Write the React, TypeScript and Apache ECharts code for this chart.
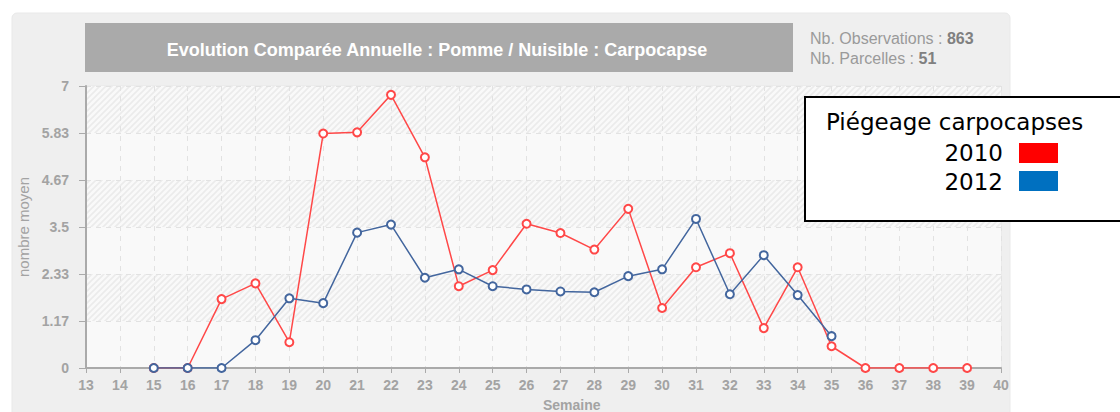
import React, { useEffect, useRef } from "react";
import * as echarts from "echarts";

// ---- data ----
const weeks2010 = [15, 16, 17, 18, 19, 20, 21, 22, 23, 24, 25, 26, 27, 28, 29, 30, 31, 32, 33, 34, 35, 36, 37, 38, 39];
const values2010 = [0, 0, 1.71, 2.1, 0.64, 5.82, 5.85, 6.78, 5.23, 2.03, 2.43, 3.58, 3.35, 2.94, 3.95, 1.49, 2.5, 2.85, 0.99, 2.5, 0.54, 0, 0, 0, 0];
const weeks2012 = [15, 16, 17, 18, 19, 20, 21, 22, 23, 24, 25, 26, 27, 28, 29, 30, 31, 32, 33, 34, 35];
const values2012 = [0, 0, 0, 0.69, 1.73, 1.61, 3.36, 3.56, 2.24, 2.45, 2.03, 1.95, 1.9, 1.88, 2.28, 2.45, 3.7, 1.83, 2.8, 1.81, 0.79];
const xMin = 13;
const xMax = 40;
const yMax = 7;
const ySteps = 6;

const seriesNames = ["2010", "2012"];
const lineColors = ["#ff4848", "#43669e"];
const legendColors = ["#ff0000", "#0070c0"];
const titleText = "Evolution Comparée Annuelle : Pomme / Nuisible : Carpocapse";
const nbObservations = 863;
const nbParcelles = 51;
const legendTitle = "Piégeage carpocapses";

function makeHatch(): HTMLCanvasElement {
  const c = document.createElement("canvas");
  c.width = 6;
  c.height = 6;
  const ctx = c.getContext("2d")!;
  ctx.fillStyle = "#f9f9f9";
  ctx.fillRect(0, 0, 6, 6);
  ctx.strokeStyle = "#ebebeb";
  ctx.lineWidth = 1.6;
  ctx.beginPath();
  ctx.moveTo(0, 6);
  ctx.lineTo(6, 0);
  ctx.moveTo(-1, 1);
  ctx.lineTo(1, -1);
  ctx.moveTo(5, 7);
  ctx.lineTo(7, 5);
  ctx.stroke();
  return c;
}

const fmt = (v: number) => String(parseFloat(v.toFixed(2)));

export default function App() {
  const ref = useRef<HTMLDivElement>(null);

  useEffect(() => {
    if (!ref.current) return;
    const chart = echarts.init(ref.current, undefined, { renderer: "svg" });

    const makeData = (w: number[], v: number[]) => w.map((x, i) => [x, v[i]]);
    const axisFont = "'Liberation Sans', Arial, Helvetica, sans-serif";
    const hatchUrl = makeHatch().toDataURL();

    const option: any = {
      animation: false,
      grid: {
        left: 86,
        right: 119,
        top: 86,
        bottom: 44,
        show: true,
        backgroundColor: "transparent",
        borderColor: "#e6e6e6",
        borderWidth: 1,
      },
      xAxis: {
        type: "value",
        min: xMin,
        max: xMax,
        interval: 1,
        axisLine: { show: true, onZero: false, lineStyle: { color: "#aaaaaa", width: 2 } },
        axisTick: { show: true, length: 5, lineStyle: { color: "#aaaaaa", width: 1 } },
        axisLabel: {
          color: "#a3a3a3",
          fontSize: 14,
          fontWeight: "bold",
          fontFamily: axisFont,
          margin: 10,
        },
        splitLine: { show: true, lineStyle: { color: "#e2e2e2", type: [5, 5], width: 1 } },
      },
      yAxis: {
        type: "value",
        min: 0,
        max: yMax,
        interval: yMax / ySteps,
        name: "nombre moyen",
        nameLocation: "middle",
        nameGap: 51,
        nameTextStyle: { color: "#a3a3a3", fontSize: 15, fontFamily: axisFont },
        axisLine: { show: true, lineStyle: { color: "#aaaaaa", width: 2 } },
        axisTick: { show: true, length: 7, lineStyle: { color: "#aaaaaa", width: 1 } },
        axisLabel: {
          color: "#a3a3a3",
          fontSize: 14,
          fontWeight: "bold",
          fontFamily: axisFont,
          margin: 17,
          formatter: (v: number) => fmt(v),
        },
        splitLine: { show: true, lineStyle: { color: "#e2e2e2", type: [5, 5], width: 1 } },
        splitArea: {
          show: true,
          areaStyle: {
            color: [
              "#f9f9f9",
              { image: hatchUrl, repeat: "repeat", imageWidth: 6, imageHeight: 6 },
            ],
          },
        },
      },
      series: [
        {
          name: seriesNames[0],
          type: "line",
          data: makeData(weeks2010, values2010),
          symbol: "circle",
          symbolSize: 8,
          lineStyle: { color: lineColors[0], width: 1.5 },
          itemStyle: { color: "#ffffff", borderColor: lineColors[0], borderWidth: 2 },
          z: 3,
        },
        {
          name: seriesNames[1],
          type: "line",
          data: makeData(weeks2012, values2012),
          symbol: "circle",
          symbolSize: 8,
          lineStyle: { color: lineColors[1], width: 1.5 },
          itemStyle: { color: "#ffffff", borderColor: lineColors[1], borderWidth: 2 },
          z: 4,
        },
      ],
      graphic: [
        {
          type: "rect",
          z: -100,
          silent: true,
          shape: { x: 12, y: 13, width: 998, height: 420, r: [5, 5, 0, 0] },
          style: { fill: "#efefef", stroke: "#e9e9e9", lineWidth: 1 },
        },
        {
          type: "rect",
          z: -90,
          silent: true,
          shape: { x: 85, y: 23, width: 708, height: 49 },
          style: { fill: "#aaaaaa" },
        },
        {
          type: "text",
          z: -80,
          silent: true,
          x: 437,
          y: 50,
          style: {
            text: titleText,
            fill: "#ffffff",
            font: "bold 18px 'Liberation Sans', Arial, Helvetica, sans-serif",
            align: "center",
            verticalAlign: "middle",
          },
        },
        {
          type: "text",
          z: -80,
          silent: true,
          x: 810,
          y: 38,
          style: {
            text: "{a|Nb. Observations : }{b|" + nbObservations + "}",
            verticalAlign: "middle",
            rich: {
              a: { fill: "#9a9a9a", font: "16px 'Liberation Sans', Arial, sans-serif" },
              b: { fill: "#808080", font: "bold 16px 'Liberation Sans', Arial, sans-serif" },
            },
          },
        },
        {
          type: "text",
          z: -80,
          silent: true,
          x: 810,
          y: 58,
          style: {
            text: "{a|Nb. Parcelles : }{b|" + nbParcelles + "}",
            verticalAlign: "middle",
            rich: {
              a: { fill: "#9a9a9a", font: "16px 'Liberation Sans', Arial, sans-serif" },
              b: { fill: "#808080", font: "bold 16px 'Liberation Sans', Arial, sans-serif" },
            },
          },
        },
        {
          type: "text",
          silent: true,
          x: 543,
          y: 405,
          style: {
            text: "Semaine",
            fill: "#a3a3a3",
            font: "bold 14px 'Liberation Sans', Arial, sans-serif",
            align: "left",
            verticalAlign: "middle",
          },
        },
        {
          type: "rect",
          z: 100,
          silent: true,
          shape: { x: 805, y: 97, width: 320, height: 124 },
          style: { fill: "#ffffff", stroke: "#000000", lineWidth: 2 },
        },
        {
          type: "text",
          z: 101,
          silent: true,
          x: 826,
          y: 122,
          style: {
            text: legendTitle,
            fill: "#000000",
            font: "23px 'DejaVu Sans', Verdana, sans-serif",
            align: "left",
            verticalAlign: "middle",
          },
        },
        {
          type: "text",
          z: 101,
          silent: true,
          x: 1003,
          y: 153,
          style: {
            text: seriesNames[0],
            fill: "#000000",
            font: "23px 'DejaVu Sans', Verdana, sans-serif",
            align: "right",
            verticalAlign: "middle",
          },
        },
        {
          type: "text",
          z: 101,
          silent: true,
          x: 1003,
          y: 182,
          style: {
            text: seriesNames[1],
            fill: "#000000",
            font: "23px 'DejaVu Sans', Verdana, sans-serif",
            align: "right",
            verticalAlign: "middle",
          },
        },
        {
          type: "rect",
          z: 101,
          silent: true,
          shape: { x: 1019, y: 143, width: 39, height: 20 },
          style: { fill: legendColors[0] },
        },
        {
          type: "rect",
          z: 101,
          silent: true,
          shape: { x: 1019, y: 171, width: 39, height: 20 },
          style: { fill: legendColors[1] },
        },
      ],
    };

    chart.setOption(option);
    return () => chart.dispose();
  }, []);

  return (
    <div
      ref={ref}
      style={{ position: "fixed", left: 0, top: 0, width: 1120, height: 412, background: "#ffffff" }}
    />
  );
}
